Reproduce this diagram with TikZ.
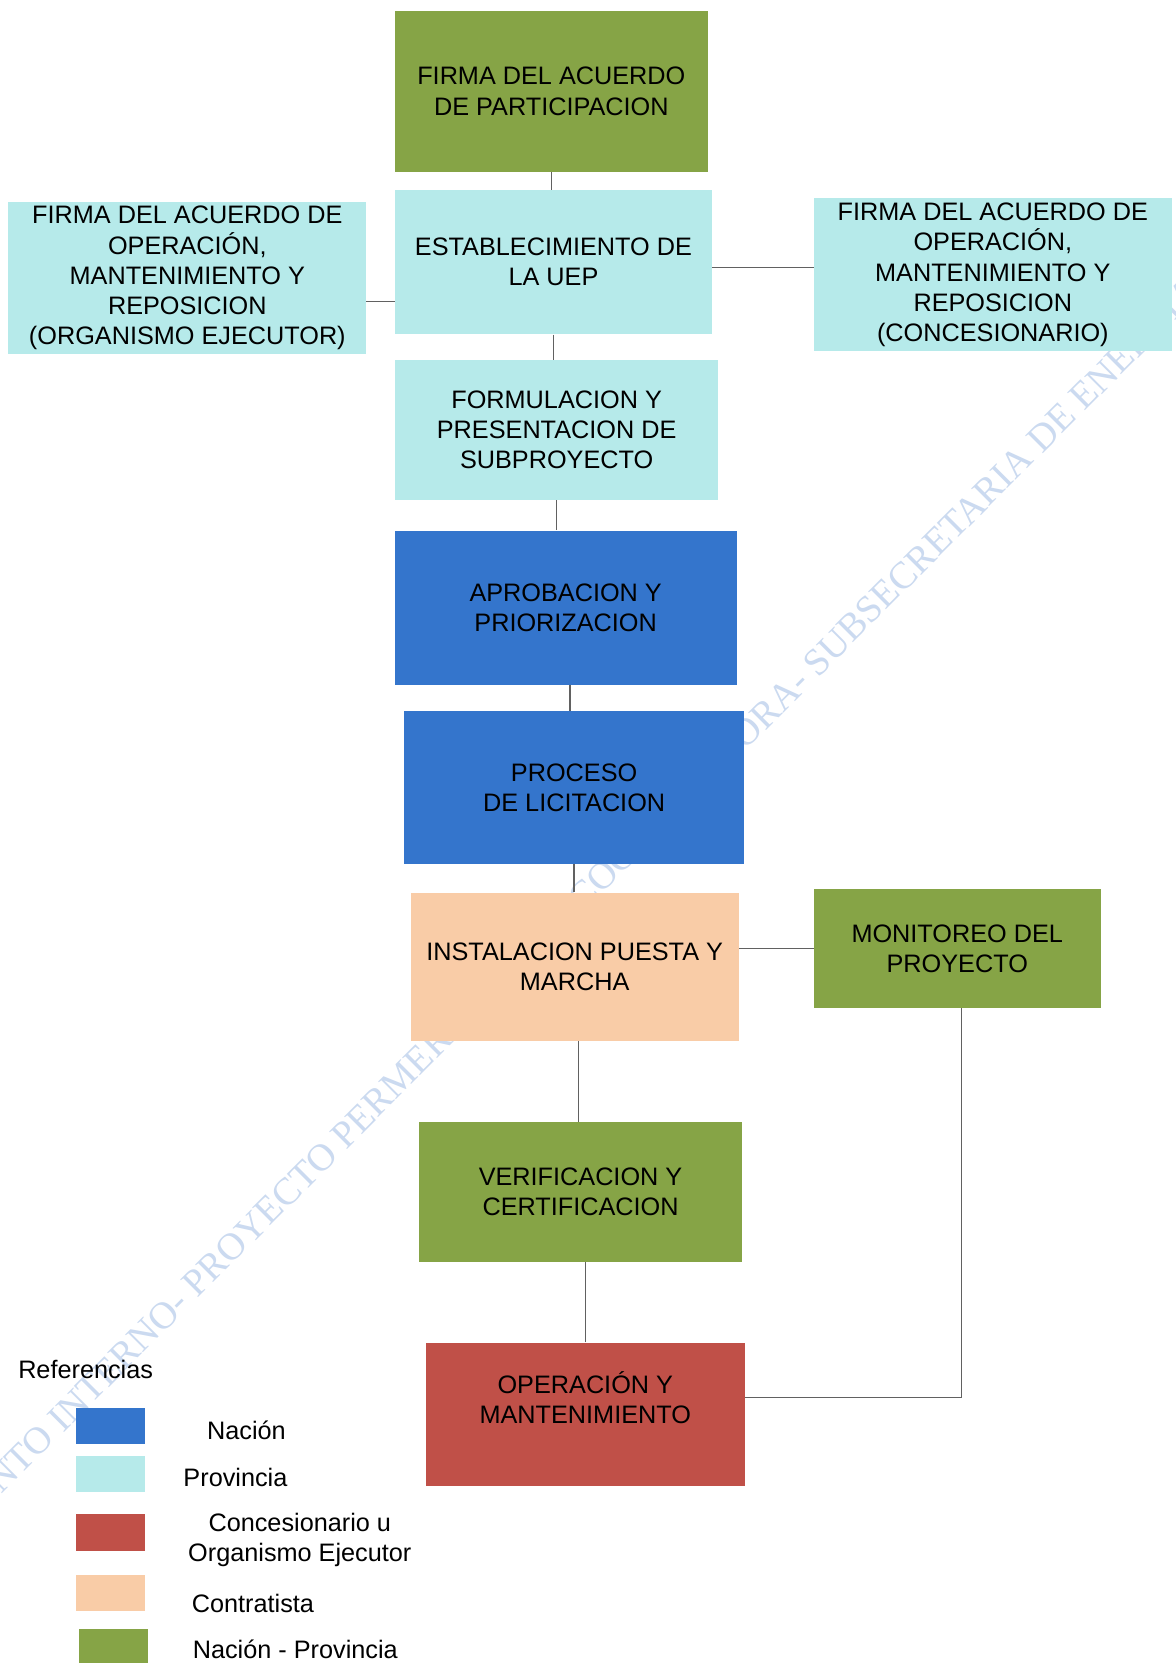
\documentclass[tikz,border=0pt]{standalone}
\usepackage{fontspec}
\setmainfont{Liberation Sans}
\newfontfamily\wmfont{Liberation Serif}
\definecolor{cgreen}{RGB}{134,164,70}
\definecolor{ccyan}{RGB}{182,234,234}
\definecolor{cblue}{RGB}{52,117,204}
\definecolor{cred}{RGB}{192,80,72}
\definecolor{cpeach}{RGB}{249,204,167}
\definecolor{cwm}{RGB}{203,218,240}
\begin{document}
\begin{tikzpicture}[x=1pt,y=-1pt,
  box/.style={rectangle, inner sep=0pt, draw=none, align=center,
    font=\fontsize{23.8}{28.5}\selectfont},
  conn/.style={draw=black!62, line width=1.3pt},
  leg/.style={anchor=base west, inner sep=0pt, font=\fontsize{23.8}{27.7}\selectfont},
  legtwo/.style={inner sep=0pt, align=center, font=\fontsize{23.8}{27.7}\selectfont},
  swatch/.style={rectangle, inner sep=0pt, draw=none, minimum width=65pt, minimum height=34pt}]
\useasboundingbox (0,0) rectangle (1108,1567);
\fill[white] (0,0) rectangle (1108,1567);
% watermark
\node[rotate=45, anchor=base west, inner sep=0pt, text=cwm,
  font=\wmfont\fontsize{36}{40}\selectfont] (wm) at (186,1224)
  {\llap{DOCUMENTO INTERNO- }PROYECTO PERMER- UNIDAD COORDINADORA- SUBSECRETARIA DE ENERGIA};
% boxes
\node[box, fill=cgreen, minimum width=295pt, minimum height=152pt] (top) at (519.5,86)
  {FIRMA DEL ACUERDO\\DE PARTICIPACION};
\node[box, fill=ccyan, minimum width=299pt, minimum height=136pt] (est) at (521.5,247)
  {ESTABLECIMIENTO DE\\LA UEP};
\node[box, fill=ccyan, minimum width=337pt, minimum height=144pt] (oe) at (176.5,262)
  {FIRMA DEL ACUERDO DE\\OPERACIÓN,\\MANTENIMIENTO Y\\REPOSICION\\(ORGANISMO EJECUTOR)};
\node[box, fill=ccyan, minimum width=337pt, minimum height=144pt] (conc) at (935.5,259)
  {FIRMA DEL ACUERDO DE\\OPERACIÓN,\\MANTENIMIENTO Y\\REPOSICION\\(CONCESIONARIO)};
\node[box, fill=ccyan, minimum width=305pt, minimum height=132pt] (form) at (524.5,405)
  {FORMULACION Y\\PRESENTACION DE\\SUBPROYECTO};
\node[box, fill=cblue, minimum width=322pt, minimum height=145pt] (apr) at (533,572.5)
  {APROBACION Y\\PRIORIZACION};
\node[box, fill=cblue, minimum width=320pt, minimum height=144pt] (proc) at (541,742)
  {PROCESO\\DE LICITACION};
\node[box, fill=cpeach, minimum width=309pt, minimum height=140pt] (inst) at (541.5,911)
  {INSTALACION PUESTA Y\\MARCHA};
\node[box, fill=cgreen, minimum width=270pt, minimum height=112pt] (mon) at (902,894)
  {MONITOREO DEL\\PROYECTO};
\node[box, fill=cgreen, minimum width=304pt, minimum height=132pt] (ver) at (547,1123)
  {VERIFICACION Y\\CERTIFICACION};
\node[box, fill=cred, minimum width=301pt, minimum height=135pt] (op) at (551.5,1332.5) {};
\node[box] (optxt) at (551.5,1317) {OPERACIÓN Y\\MANTENIMIENTO};
% connectors
\draw[conn] (top.south) -- (top.south |- est.north);
\draw[conn] ([yshift=-22pt]oe.east) -- ([yshift=-22pt]oe.east -| est.west);
\draw[conn] ([yshift=-5pt]est.east) -- ([yshift=-5pt]est.east -| conc.west);
\draw[conn] (est.south) -- (est.south |- form.north);
\draw[conn] (form.south) -- (form.south |- apr.north);
\draw[conn] ([xshift=4pt]apr.south) -- ([xshift=4pt]apr.south |- proc.north);
\draw[conn] (proc.south) -- (proc.south |- inst.north);
\draw[conn] (mon.west) -- (mon.west -| inst.east);
\draw[conn] ([xshift=-2pt]ver.north) -- ([xshift=-2pt]ver.north |- inst.south);
\draw[conn] (op.north) -- (op.north |- ver.south);
\draw[conn] ([xshift=4pt]mon.south) |- (op.east |- optxt);
% legend
\node[leg] (ref) at (17,1299) {Referencias};
\node[swatch, fill=cblue] (s1) at (104,1344) {};
\node[swatch, fill=ccyan] (s2) at (104,1388.5) {};
\node[swatch, fill=cred] (s3) at (104,1444) {};
\node[swatch, fill=cpeach] (s4) at (104,1501) {};
\node[swatch, fill=cgreen, minimum height=33pt] (s5) at (107,1551.5) {};
\node[leg] (l1) at (195,1356.7) {Nación};
\node[leg] (l2) at (172.7,1400.7) {Provincia};
\node[legtwo] (l3) at (282.5,1451) {Concesionario u\\Organismo Ejecutor};
\node[leg] (l4) at (180.6,1519.4) {Contratista};
\node[leg] (l5) at (181.5,1563) {Nación - Provincia};
\end{tikzpicture}
\end{document}
